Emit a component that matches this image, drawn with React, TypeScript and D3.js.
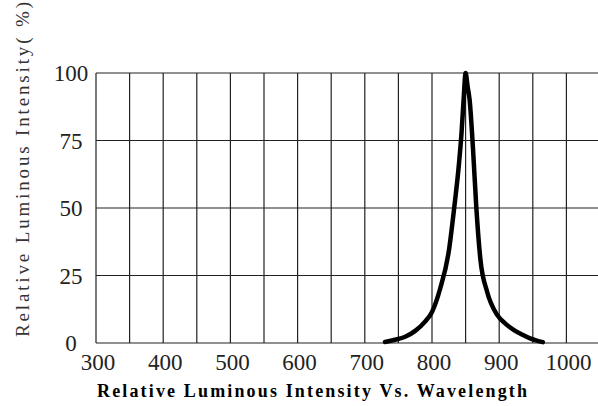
import { useEffect, useRef } from 'react'
import * as d3 from 'd3'

// spectrum (nm, %)
const wavelengths = [730, 745, 760, 775, 790, 800, 812, 825, 833, 840, 844, 847, 850, 853, 856, 861, 866, 872, 882, 897, 910, 922, 935, 946, 956, 965]
const intensity = [0.4, 1.2, 2.3, 4.5, 8.0, 11.5, 20, 34, 50, 66, 78, 90, 100, 95, 90, 72, 50, 31, 19, 10.4, 7, 4.8, 3, 1.7, 0.9, 0.3]

const xTicks = [300, 400, 500, 600, 700, 800, 900, 1000]
const yTicks = [0, 25, 50, 75, 100]

const serif = 'Liberation Serif'

export default function App() {
  const svgRef = useRef<SVGSVGElement>(null)

  useEffect(() => {
    if (!svgRef.current) return
    const svg = d3.select(svgRef.current)
    svg.selectAll('*').remove()

    const W = 598
    const H = 406
    svg.attr('width', W).attr('height', H)

    const x = d3.scaleLinear().domain([300, 1050]).range([96, 600])
    const y = d3.scaleLinear().domain([0, 100]).range([343, 73])

    const grid = svg.append('g')
      .attr('stroke', '#222')
      .attr('stroke-width', 1.2)

    // vertical lines every 50 nm
    grid.selectAll('.vline')
      .data(d3.range(300, 1051, 50))
      .enter().append('line')
      .attr('x1', d => x(d))
      .attr('x2', d => x(d))
      .attr('y1', y(100))
      .attr('y2', y(0))

    grid.selectAll('.hline')
      .data(yTicks)
      .enter().append('line')
      .attr('x1', x(300))
      .attr('x2', x(1050))
      .attr('y1', d => y(d))
      .attr('y2', d => y(d))

    const data = wavelengths.map((w, i) => ({ w, v: intensity[i] }))

    const line = d3.line<{ w: number, v: number }>()
      .x(d => x(d.w))
      .y(d => y(d.v))
      .curve(d3.curveMonotoneX)

    svg.append('path')
      .datum(data)
      .attr('fill', 'none')
      .attr('stroke', '#000')
      .attr('stroke-width', 4.5)
      .attr('stroke-linejoin', 'round')
      .attr('stroke-linecap', 'round')
      .attr('d', line)

    svg.selectAll('.xlab')
      .data(xTicks)
      .enter().append('text')
      .attr('x', d => x(d) + 2)
      .attr('y', 370)
      .attr('text-anchor', 'middle')
      .attr('font-family', serif)
      .attr('font-size', 23)
      .attr('fill', '#222')
      .text(d => d)

    svg.selectAll('.ylab')
      .data(yTicks)
      .enter().append('text')
      .attr('x', 71)
      .attr('y', d => y(d) + 8)
      .attr('text-anchor', 'middle')
      .attr('font-family', serif)
      .attr('font-size', 23)
      .attr('fill', '#222')
      .text(d => d)

    svg.append('text')
      .attr('transform', 'translate(29,337) rotate(-90)')
      .attr('textLength', 335)
      .attr('lengthAdjust', 'spacing')
      .attr('font-family', serif)
      .attr('font-size', 19)
      .attr('fill', '#333')
      .text('Relative Luminous Intensity( %)')

    svg.append('text')
      .attr('x', 97)
      .attr('y', 397)
      .attr('textLength', 430)
      .attr('lengthAdjust', 'spacing')
      .attr('font-family', serif)
      .attr('font-size', 18)
      .attr('font-weight', 'bold')
      .attr('fill', '#000')
      .text('Relative Luminous Intensity Vs. Wavelength')
  }, [])

  return (
    <div style={{ position: 'fixed', left: 0, top: 0, background: '#fff' }}>
      <svg ref={svgRef} style={{ display: 'block' }}></svg>
    </div>
  )
}
